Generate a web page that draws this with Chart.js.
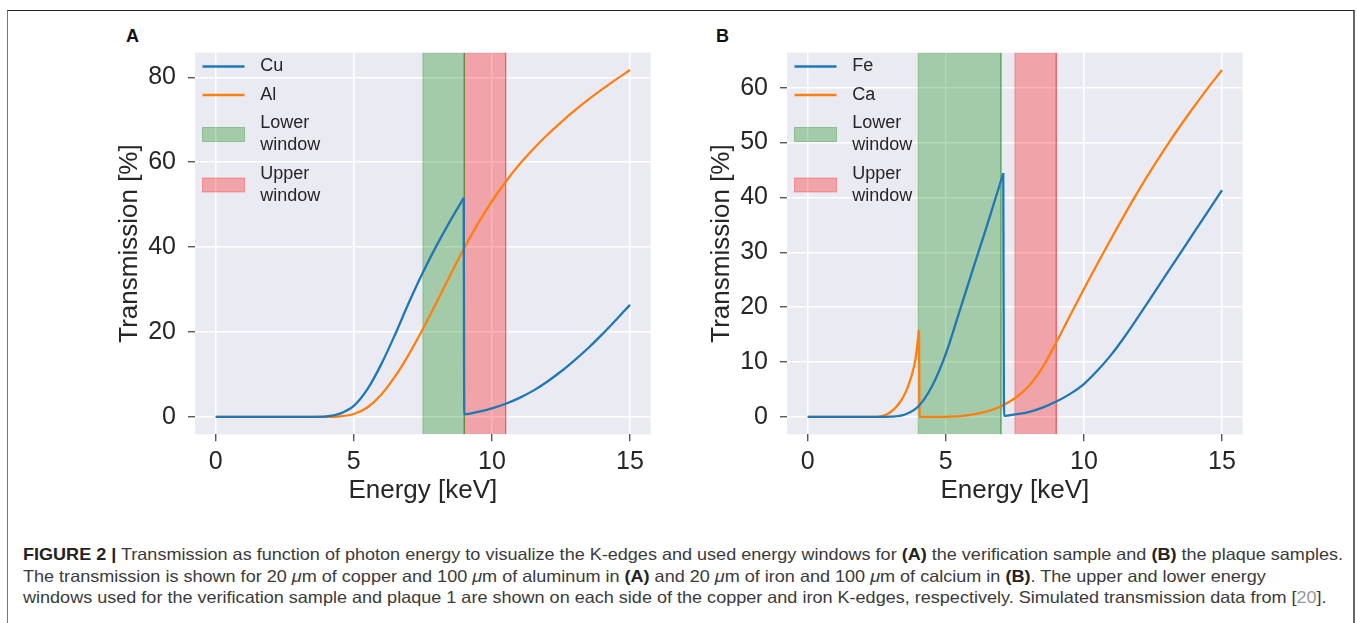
<!DOCTYPE html>
<html>
<head>
<meta charset="utf-8">
<title>Transmission vs photon energy</title>
<script src="https://cdn.jsdelivr.net/npm/chart.js@4.4.1/dist/chart.umd.min.js"></script>
<style>
  html, body { margin: 0; padding: 0; background: #fff; }
  body { width: 1357px; height: 623px; position: relative; overflow: hidden;
         font-family: 'Liberation Sans', Arial, sans-serif; }
  #frame { position: absolute; left: 7px; top: 10px; width: 1345px; height: 640px;
           border-top: 1px solid #222; border-left: 1px solid #777; border-right: 2px solid #666; }
  .panel { position: absolute; top: 20px; }
  #panelA { left: 90px; }
  #panelB { left: 682px; }
  .tag { position: absolute; top: 27px; font-weight: bold; font-size: 18px; line-height: 18px; color: #111; }
  .cap { position: absolute; left: 23px; white-space: nowrap; font-size: 16.5px; line-height: 20px;
         color: #3a3a3a; transform-origin: 0 50%;
         font-family: 'Liberation Sans Narrow', 'Liberation Sans', Arial, sans-serif; }
  .cap b { color: #222; }
  .cap .ref { color: #999; }
</style>
</head>
<body>
<div id="frame"></div>
<div class="tag" style="left:126px">A</div>
<div class="tag" style="left:716px">B</div>
<canvas id="panelA" class="panel" width="575" height="500"></canvas>
<canvas id="panelB" class="panel" width="575" height="500"></canvas>

<div class="cap" id="cap1" style="top:544px"><b>FIGURE 2 |</b> Transmission as function of photon energy to visualize the K-edges and used energy windows for <b>(A)</b> the verification sample and <b>(B)</b> the plaque samples.</div>
<div class="cap" id="cap2" style="top:566px">The transmission is shown for 20 <i>μ</i>m of copper and 100 <i>μ</i>m of aluminum in <b>(A)</b> and 20 <i>μ</i>m of iron and 100 <i>μ</i>m of calcium in <b>(B)</b>. The upper and lower energy</div>
<div class="cap" id="cap3" style="top:587px">windows used for the verification sample and plaque 1 are shown on each side of the copper and iron K-edges, respectively. Simulated transmission data from [<span class="ref">20</span>].</div>

<script>
// ---- panel A: copper / aluminium ----
const cuEnergy = [0, 1, 2, 3, 3.5, 4, 4.5, 5, 5.5, 6, 6.5, 7, 7.5, 8, 8.5, 8.98,
                  9.0, 9.5, 10, 10.5, 11, 11.5, 12, 12.5, 13, 13.5, 14, 14.5, 15];
const cuTrans = [0, 0, 0, 0, 0.02, 0.12, 0.8, 2.6, 6.6, 12.5, 19.5, 27.0, 34.0, 40.4, 46.3, 51.6,
                 0.6, 1.2, 2.0, 3.1, 4.5, 6.2, 8.3, 10.7, 13.4, 16.3, 19.5, 22.9, 26.4];
const cuEdge = 8.98;
const alEnergy = [0, 1, 2, 3, 3.5, 4, 4.5, 5, 5.5, 6, 6.5, 7, 7.5, 8, 8.5, 9, 9.5, 10,
                  10.5, 11, 11.5, 12, 12.5, 13, 13.5, 14, 14.5, 15];
const alTrans = [0, 0, 0, 0, 0, 0.02, 0.15, 0.7, 2.3, 5.3, 9.6, 14.8, 20.7, 27.0, 33.5, 39.8, 45.6, 50.8,
                 55.4, 59.5, 63.1, 66.4, 69.4, 72.2, 74.8, 77.2, 79.5, 81.7];
const lowerWindowA = [7.5, 9.0];
const upperWindowA = [9.0, 10.5];
const yTicksA = [0, 20, 40, 60, 80];
const yRangeA = [-4.085, 85.785];

// ---- panel B: iron / calcium ----
const feEnergy = [0, 1, 2, 2.5, 3, 3.5, 4, 4.5, 5, 5.5, 6, 6.5, 7.08,
                  7.11, 7.5, 8, 8.5, 9, 9.5, 10, 10.5, 11, 11.5, 12, 12.5, 13, 13.5, 14, 14.5, 15];
const feTrans = [0, 0, 0, 0, 0.05, 0.4, 1.9, 5.6, 11.5, 19.3, 27.2, 35.0, 44.4,
                 0.2, 0.45, 0.9, 1.7, 2.8, 4.2, 6.0, 8.5, 11.4, 14.8, 18.5, 22.3, 26.1, 29.9, 33.7, 37.5, 41.3];
const feEdge = 7.08;
const caEnergy = [0, 1, 2, 2.5, 2.75, 3, 3.25, 3.5, 3.75, 3.9, 4.03,
                  4.05, 4.5, 5, 5.5, 6, 6.5, 7, 7.5, 8, 8.5, 9, 9.5, 10, 10.5, 11, 11.5, 12, 12.5, 13, 13.5, 14, 14.5, 15];
const caTrans = [0, 0, 0, 0.02, 0.25, 0.9, 2.1, 4.0, 7.3, 10.5, 15.8,
                 0, 0, 0.03, 0.15, 0.45, 1.0, 1.95, 3.4, 5.6, 9.0, 13.6, 18.5, 23.3, 28.0, 32.6, 37.1, 41.4, 45.5, 49.4, 53.1, 56.6, 60.0, 63.2];
const caEdge = 4.03;
const lowerWindowB = [4.0, 7.0];
const upperWindowB = [7.5, 9.0];
const yTicksB = [0, 10, 20, 30, 40, 50, 60];
const yRangeB = [-3.16, 66.36];

const xTicks = [0, 5, 10, 15];
const xRange = [-0.75, 15.75];

const FONT = "'Liberation Sans', Arial, sans-serif";
const INK = '#262626';
const BLUE = '#1f77b4';
const ORANGE = '#ff7f0e';
const GREEN = 'rgba(0, 128, 0, 0.3)';
const RED = 'rgba(255, 0, 0, 0.3)';

function pts(xs, ys) {
  return xs.map((x, i) => ({ x: x, y: ys[i] }));
}

function curve(label, data, color) {
  return {
    label: label, data: data, borderColor: color, backgroundColor: color,
    borderWidth: 2.3, pointRadius: 0, fill: false, cubicInterpolationMode: 'monotone', order: 1
  };
}

// absorption edge: split so the smoothing does not flatten the peak;
// the second part starts at the peak and draws the drop
function edgeCurve(label, xs, ys, edge, color) {
  const all = pts(xs, ys);
  const k = all.findIndex(p => p.x === edge);
  return [curve(label, all.slice(0, k + 1), color), curve('', all.slice(k), color)];
}

// a vertical band spanning the whole y range
function band(label, win, yr, color) {
  return {
    label: label,
    data: [{ x: win[0], y: yr[0] }, { x: win[0], y: yr[1] }, { x: win[1], y: yr[1] }, { x: win[1], y: yr[0] }],
    borderColor: color, backgroundColor: color, borderWidth: 1,
    pointRadius: 0, fill: 'start', tension: 0, order: 2
  };
}

// lavender axes background like the seaborn darkgrid style
const plotBackground = {
  id: 'plotBackground',
  beforeDraw(chart) {
    const a = chart.chartArea, ctx = chart.ctx;
    ctx.save();
    ctx.fillStyle = '#eaeaf2';
    ctx.fillRect(a.left, a.top, a.right - a.left, a.bottom - a.top);
    ctx.restore();
  }
};

// legend in the upper left corner, two-line labels allowed
const cornerLegend = {
  id: 'cornerLegend',
  afterDatasetsDraw(chart) {
    const a = chart.chartArea, ctx = chart.ctx;
    const lh = 22;
    let cursor = a.top + 2.8;
    ctx.save();
    ctx.font = '18px ' + FONT;
    ctx.textBaseline = 'middle';
    chart.data.datasets.filter(ds => ds.label).forEach(ds => {
      const lines = ds.label.split('\n');
      const h = lines.length * lh;
      const cy = cursor + h / 2;
      const x0 = a.left + 7.5, x1 = a.left + 49.5;
      if (ds.fill) {
        ctx.fillStyle = ds.backgroundColor;
        ctx.fillRect(x0, cy - 7, x1 - x0, 14);
        ctx.strokeStyle = ds.borderColor;
        ctx.lineWidth = 1;
        ctx.strokeRect(x0, cy - 7, x1 - x0, 14);
      } else {
        ctx.strokeStyle = ds.borderColor;
        ctx.lineWidth = ds.borderWidth;
        ctx.beginPath();
        ctx.moveTo(x0, cy);
        ctx.lineTo(x1, cy);
        ctx.stroke();
      }
      ctx.fillStyle = INK;
      lines.forEach((t, i) => {
        ctx.fillText(t, a.left + 65.3, cy + (i - (lines.length - 1) / 2) * lh);
      });
      cursor += h + 6.5;
    });
    ctx.restore();
  }
};

function makePanel(id, datasets, yTicks, yRange) {
  return new Chart(document.getElementById(id), {
    type: 'line',
    data: { datasets: datasets },
    plugins: [plotBackground, cornerLegend],
    options: {
      responsive: false,
      animation: false,
      events: [],
      layout: { padding: { top: 32.7, right: 14.3, left: 0, bottom: 0 } },
      plugins: { legend: { display: false }, tooltip: { enabled: false } },
      scales: {
        x: {
          type: 'linear', min: xRange[0], max: xRange[1],
          afterBuildTicks: s => { s.ticks = xTicks.map(v => ({ value: v })); },
          afterFit: s => { s.height = 85.7; },
          grid: { color: '#ffffff', lineWidth: 1.5, tickColor: '#3a3a3a', tickWidth: 1.2, tickLength: 7 },
          border: { display: false },
          ticks: { color: INK, font: { family: FONT, size: 25 }, padding: 6, maxRotation: 0 },
          title: { display: true, text: 'Energy [keV]', color: INK, font: { family: FONT, size: 26 },
                   padding: { top: 0, bottom: 13.4 } }
        },
        y: {
          type: 'linear', min: yRange[0], max: yRange[1],
          afterBuildTicks: s => { s.ticks = yTicks.map(v => ({ value: v })); },
          afterFit: s => { s.width = 105; },
          grid: { color: '#ffffff', lineWidth: 1.5, tickColor: '#3a3a3a', tickWidth: 1.2, tickLength: 7 },
          border: { display: false },
          ticks: { color: INK, font: { family: FONT, size: 25 }, padding: 12 },
          title: { display: true, text: 'Transmission [%]', color: INK, font: { family: FONT, size: 26 },
                   padding: { top: 24.4, bottom: 0 } }
        }
      }
    }
  });
}

makePanel('panelA', [
  ...edgeCurve('Cu', cuEnergy, cuTrans, cuEdge, BLUE),
  curve('Al', pts(alEnergy, alTrans), ORANGE),
  band('Lower\nwindow', lowerWindowA, yRangeA, GREEN),
  band('Upper\nwindow', upperWindowA, yRangeA, RED)
], yTicksA, yRangeA);

makePanel('panelB', [
  ...edgeCurve('Fe', feEnergy, feTrans, feEdge, BLUE),
  ...edgeCurve('Ca', caEnergy, caTrans, caEdge, ORANGE),
  band('Lower\nwindow', lowerWindowB, yRangeB, GREEN),
  band('Upper\nwindow', upperWindowB, yRangeB, RED)
], yTicksB, yRangeB);

// squeeze caption lines to the condensed width of the printed caption
const first = document.getElementById('cap1');
const squeeze = 1320 / first.getBoundingClientRect().width;
['cap1', 'cap2', 'cap3'].forEach(id => {
  document.getElementById(id).style.transform = 'scaleX(' + squeeze + ')';
});
</script>
</body>
</html>
